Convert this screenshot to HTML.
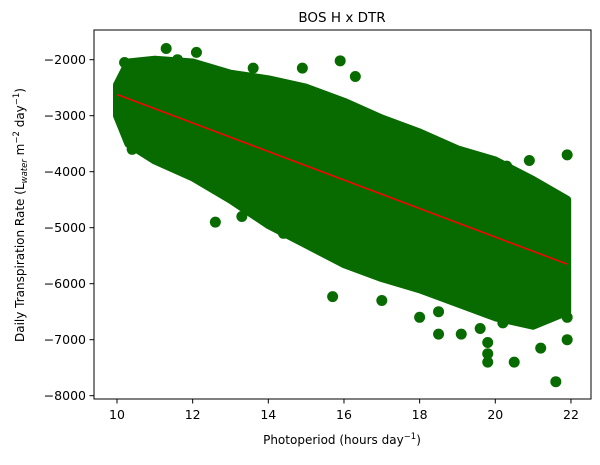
<!DOCTYPE html>
<html><head><meta charset="utf-8"><style>
body{margin:0;background:#fff;}
svg{font-family:"DejaVu Sans","Liberation Sans",sans-serif;}
</style></head><body>
<svg id="chart" width="600" height="460" xmlns="http://www.w3.org/2000/svg">
<text x="342" y="22" text-anchor="middle" font-size="13.5">BOS H x DTR</text>
<g id="plot"></g>
<rect x="94" y="30" width="497" height="369" fill="none" stroke="#000" stroke-width="1"/>
<g id="xt"></g>
<g id="yt"></g>
<text x="342" y="444" text-anchor="middle" font-size="12">Photoperiod (hours day<tspan dy="-5" font-size="8.5">−1</tspan><tspan dy="5">)</tspan></text>
<text transform="translate(24,215) rotate(-90)" text-anchor="middle" font-size="12">Daily Transpiration Rate (L<tspan dy="3" font-size="8.5" font-style="italic">water</tspan><tspan dy="-3"> m</tspan><tspan dy="-5" font-size="8.5">−2</tspan><tspan dy="5"> day</tspan><tspan dy="-5" font-size="8.5">−1</tspan><tspan dy="5">)</tspan></text>
</svg>
<script>
const envX = [10.0,10.3,11,12,13,14,15,16,17,18,19,20,21,21.9];
const envUpper = [-2450,-2050,-2000,-2050,-2250,-2350,-2500,-2750,-3050,-3300,-3600,-3800,-4150,-4500];
const envLower = [-3000,-3500,-3800,-4100,-4500,-4950,-5300,-5650,-5900,-6100,-6350,-6600,-6750,-6500];
const outX = [11.3,12.1,15.9,10.4,12.6,15.7,17.0,18.0,18.5,19.1,19.8,19.8,20.5,21.6,21.2,21.9,19.8,18.5,19.6,20.2,21.9,14.4,13.3,10.2,11.6,21.9,20.9,20.3,16.3,14.9,13.6,12.2];
const outY = [-1800,-1870,-2020,-3600,-4900,-6230,-6300,-6600,-6900,-6900,-7250,-7400,-7400,-7750,-7150,-7000,-7050,-6500,-6800,-6700,-6600,-5100,-4800,-2050,-2000,-3700,-3800,-3900,-2300,-2150,-2150,-2150];
const fitX = [10.0,21.9];
const fitY = [-2620,-5650];
const xTicks = [10,12,14,16,18,20,22];
const yTicks = [-2000,-3000,-4000,-5000,-6000,-7000,-8000];
const NS="http://www.w3.org/2000/svg";
const sx = v => 117 + (v-10)*37.83;
const sy = v => 59.7 + (-2000 - v)*0.056;
const plot=document.getElementById('plot');
function mk(t,a,p){const e=document.createElementNS(NS,t);for(const k in a)e.setAttribute(k,a[k]);p.appendChild(e);return e;}
let pts=[];
for(let i=0;i<envX.length;i++)pts.push(sx(envX[i])+','+sy(envUpper[i]));
for(let i=envX.length-1;i>=0;i--)pts.push(sx(envX[i])+','+sy(envLower[i]));
const band=mk('polygon',{points:pts.join(' '),fill:'#076b00',stroke:'#076b00','stroke-width':8,'stroke-linejoin':'round'},plot);


for(let i=0;i<outX.length;i++){
 const c=mk('circle',{cx:sx(outX[i]),cy:sy(outY[i]),r:5.5,fill:'#076b00'},plot);
 
 
}
const ln=mk('line',{x1:sx(fitX[0]),y1:sy(fitY[0]),x2:sx(fitX[1]),y2:sy(fitY[1]),stroke:'#ff0000','stroke-width':1.5},plot);


const xt=document.getElementById('xt'), yt=document.getElementById('yt');
xTicks.forEach(v=>{
 const x=sx(v);
 const t=mk('line',{x1:x,y1:399,x2:x,y2:403.5,stroke:'#000'},xt);
 
 
 const l=mk('text',{x:x,y:419,'text-anchor':'middle','font-size':12.5},xt);
 l.textContent=v;
 
 
});
yTicks.forEach(v=>{
 const y=sy(v);
 const t=mk('line',{x1:89.5,y1:y,x2:94,y2:y,stroke:'#000'},yt);
 
 
 const l=mk('text',{x:86,y:y+4.5,'text-anchor':'end','font-size':12.5},yt);
 l.textContent='−'+Math.abs(v);
 
 
});
</script>
</body></html>
